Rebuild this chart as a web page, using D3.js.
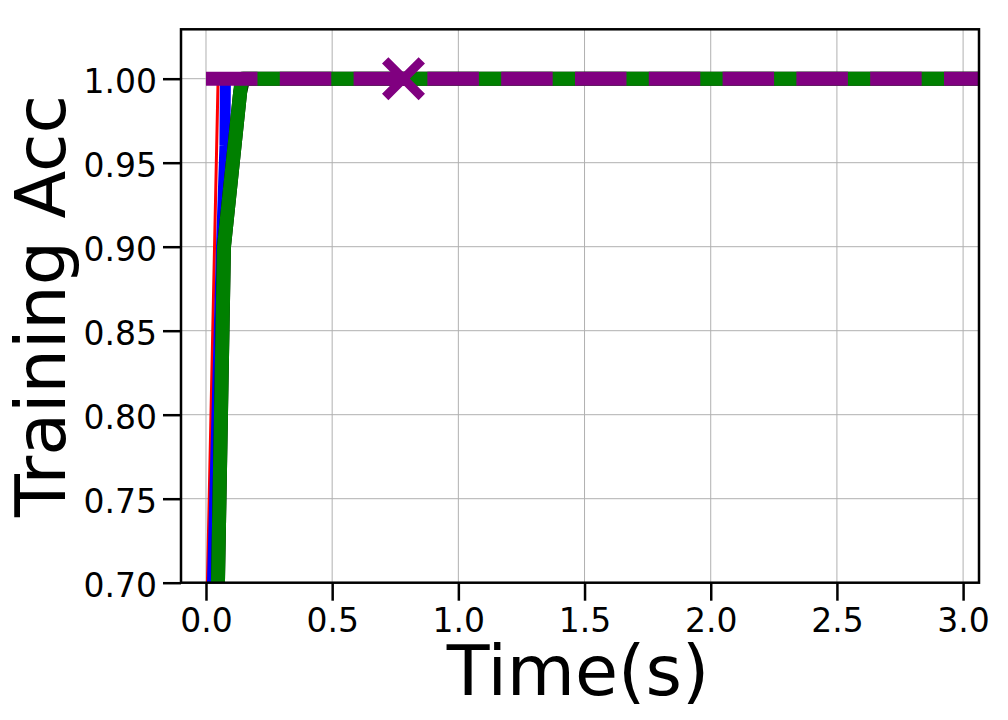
<!DOCTYPE html>
<html><head><meta charset="utf-8">
<script src="https://cdn.jsdelivr.net/npm/d3@7"></script>
<style>body{margin:0;background:#fff}svg{display:block;font-family:"DejaVu Sans",sans-serif}</style>
</head><body><svg id="c" width="1008" height="720"></svg>
<script>
// ---- data ----
const xTicks = [0.0, 0.5, 1.0, 1.5, 2.0, 2.5, 3.0];
const yTicks = [0.70, 0.75, 0.80, 0.85, 0.90, 0.95, 1.00];
const redTime   = [0.0, 0.048, 3.2];
const redAcc    = [0.66, 1.0, 1.0];
const blueTime  = [0.0, 0.0614, 0.075, 0.077, 3.2];
const blueAcc   = [0.556, 0.90, 0.96, 1.0, 1.0];
const blackTime = [0.03, 0.0713, 0.1354, 0.148, 3.2];
const blackAcc  = [0.553, 0.90, 0.992, 1.0, 1.0];
const greenTime = [0.03, 0.0713, 0.141, 3.2];
const greenAcc  = [0.553, 0.90, 1.0, 1.0];
const purpleTime = [0.0, 3.2];
const purpleAcc  = [1.0, 1.0];
const markerTime = [0.7826];
const markerAcc  = [1.0];

// ---- layout ----
const L = 181, R = 979, T = 29.3, B = 582.7;
const x = d3.scaleLinear().domain([-0.099, 3.063]).range([L, R]);
const y = d3.scaleLinear().domain([0.70, 1.0294]).range([B, T]);
const svg = d3.select("#c");

svg.append("defs").append("clipPath").attr("id", "clip")
  .append("rect").attr("x", L).attr("y", T).attr("width", R - L).attr("height", B - T);

// grid
const grid = svg.append("g");
grid.selectAll(".gx").data(xTicks).enter().append("line")
  .attr("x1", d => x(d)).attr("x2", d => x(d)).attr("y1", T).attr("y2", B)
  .attr("stroke", "#b0b0b0").attr("stroke-width", 1);
grid.selectAll(".gy").data(yTicks).enter().append("line")
  .attr("y1", d => y(d)).attr("y2", d => y(d)).attr("x1", L).attr("x2", R)
  .attr("stroke", "#b0b0b0").attr("stroke-width", 1);

// lines
const plot = svg.append("g").attr("clip-path", "url(#clip)");
const line = d3.line().x(d => x(d[0])).y(d => y(d[1]));
function series(t, a, color, w, dash) {
  const p = plot.append("path").datum(t.map((v, i) => [v, a[i]]))
    .attr("d", line).attr("fill", "none").attr("stroke", color)
    .attr("stroke-width", w).attr("stroke-linejoin", "round").attr("stroke-linecap", "butt");
  if (dash) p.attr("stroke-dasharray", dash);
}
series(redTime, redAcc, "#ff0000", 3);
series(blueTime, blueAcc, "#0000ff", 11);
series(blackTime, blackAcc, "#000000", 14);
series(greenTime, greenAcc, "#008000", 14);
series(purpleTime, purpleAcc, "#800080", 14, "51.5,22.3");

// marker x
const s = 18.3;
plot.selectAll(".mk").data(markerTime.map((v, i) => [v, markerAcc[i]])).enter().append("path")
  .attr("d", d => {
    const cx = x(d[0]), cy = y(d[1]);
    return `M${cx - s},${cy - s}L${cx + s},${cy + s}M${cx - s},${cy + s}L${cx + s},${cy - s}`;
  })
  .attr("stroke", "#800080").attr("stroke-width", 9).attr("fill", "none");

// axes
const xAxis = d3.axisBottom(x).tickValues(xTicks).tickFormat(d3.format(".1f")).tickSizeOuter(0).tickSize(18).tickPadding(6);
const yAxis = d3.axisLeft(y).tickValues(yTicks).tickFormat(d3.format(".2f")).tickSizeOuter(0).tickSize(18).tickPadding(6);
const gx = svg.append("g").attr("transform", `translate(0,${B})`).call(xAxis);
const gy = svg.append("g").attr("transform", `translate(${L},0)`).call(yAxis);
[gx, gy].forEach(g => {
  g.select(".domain").remove();
  g.selectAll(".tick line").attr("stroke", "#000").attr("stroke-width", 2.5);
  g.selectAll(".tick text").attr("font-size", 33).attr("fill", "#000")
    .attr("font-family", "DejaVu Sans");
});
gx.selectAll(".tick text").attr("dy", null).attr("y", 49);
gy.selectAll(".tick text").attr("dy", null).attr("y", 14).attr("x", -24);

// frame
svg.append("rect").attr("x", L).attr("y", T).attr("width", R - L).attr("height", B - T)
  .attr("fill", "none").attr("stroke", "#000").attr("stroke-width", 2.5);

// labels
svg.append("text").attr("x", 578).attr("y", 695).attr("text-anchor", "middle")
  .attr("font-size", 70).attr("fill", "#000").text("Time(s)");
svg.append("text").attr("transform", `translate(65,${(T + B) / 2}) rotate(-90)`)
  .attr("text-anchor", "middle").attr("font-size", 70).attr("fill", "#000").text("Training Acc");
</script></body></html>
